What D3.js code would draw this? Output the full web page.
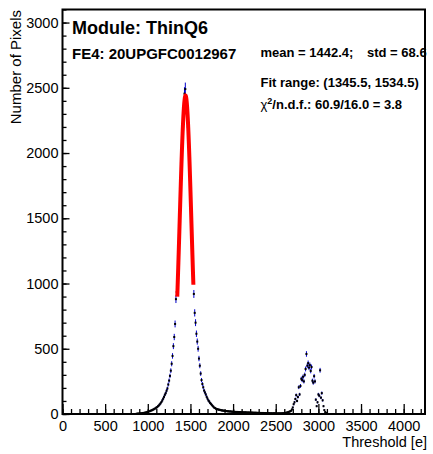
<!DOCTYPE html>
<html>
<head>
<meta charset="utf-8">
<script src="https://cdn.jsdelivr.net/npm/d3@7/dist/d3.min.js"></script>
<style>
  body { margin: 0; background: #fff; }
  text { font-family: "Liberation Sans", Arial, Helvetica, sans-serif; }
</style>
</head>
<body>
<script>
// histogram: bin width 10, counts
var binWidth = 10;
var leftStart = 870;
var leftTail = [2,3,3,4,5,4,6,7,8,9, 11,12,14,17,19,21,24,27,29,33,
  36,40,44,49,53,60,66,74,82,92, 104,117,131,147,160,178,196,226,256,292,
  332,385,445,520,590,690,880,935];
var peakStart = 1350;
var peakCounts = [1000,1170,1420,1590,1800,2060,2170,2330,2455,2490,
  2400,2320,2200,2060,1900,1740,1480,1300,1060];
var rightStart = 1540;
var rightTail = [920,775,700,615,555,500,425,370,310,260,
  230,205,180,165,150,132,118,104,96,85, 78,70,62,55,48,45,40,38,36,33,
  33,30,29,27,27,25,24,23,23,21, 21,20,19,20,18,18,17,18,16,16,
  15,16,15,14,15,14,13,14,13,12, 13,12,12,11,12,11,11,10,11,10,
  10,9,10,9,9,8,9,8,8,8, 7,8,7,7,7,6,7,6,6,6, 5,6,5,5,6,5,5,5,4,5,
  5,4,5,5,6,6,7,8,9,11, 13,15,18,21];
var bumpStart = 2680;
var bumpCounts = [25,35,50,75,90,115,145,100,130,205,
  150,215,270,260,285,250,300,345,460,370,
  390,355,375,330,360,255,240,290,250,110,
  60,90,150,140,335,125,160,105,60,30, 15,8,3];

var xTicks = [0,500,1000,1500,2000,2500,3000,3500,4000];
var yTicks = [0,500,1000,1500,2000,2500,3000];

// gaussian fit result
var fitAmp = 2440, fitMean = 1442.4, fitSigma = 68.6;
var fitRange = [1345.5, 1534.5];

var W = 433, H = 454;
var fLeft = 62.5, fRight = 425, fTop = 9.5, fBottom = 414;

var xScale = d3.scaleLinear().domain([0, 4250]).range([fLeft, fRight]);
var yScale = d3.scaleLinear().domain([0, 3100]).range([fBottom, fTop]);

var bins = [];
function addBins(start, arr) {
  arr.forEach(function(v, i) { bins.push({x: start + i * binWidth, y: v}); });
}
addBins(leftStart, leftTail);
addBins(peakStart, peakCounts);
addBins(rightStart, rightTail);
addBins(bumpStart, bumpCounts);

var svg = d3.select("body").append("svg")
  .attr("width", W).attr("height", H);
svg.append("rect").attr("width", W).attr("height", H).attr("fill", "#fff");

// error bars
svg.append("g").selectAll("line")
  .data(bins).enter().append("line")
  .attr("x1", function(d){ return xScale(d.x); })
  .attr("x2", function(d){ return xScale(d.x); })
  .attr("y1", function(d){ return yScale(d.y + Math.sqrt(d.y)); })
  .attr("y2", function(d){ return yScale(Math.max(0, d.y - Math.sqrt(d.y))); })
  .attr("stroke", "#0000cc")
  .attr("stroke-width", 1);

// markers
svg.append("g").selectAll("rect")
  .data(bins).enter().append("rect")
  .attr("x", function(d){ return xScale(d.x) - 1; })
  .attr("y", function(d){ return yScale(d.y) - 1; })
  .attr("width", 2).attr("height", 2)
  .attr("fill", "#000");

// fit curve
var fitX = d3.range(0, 101).map(function(i){
  return fitRange[0] + i * (fitRange[1] - fitRange[0]) / 100;
});
var gaus = function(x){
  return fitAmp * Math.exp(-(x - fitMean) * (x - fitMean) / (2 * fitSigma * fitSigma));
};
svg.append("path")
  .datum(fitX)
  .attr("d", d3.line()
    .x(function(d){ return xScale(d); })
    .y(function(d){ return yScale(gaus(d)); }))
  .attr("fill", "none")
  .attr("stroke", "#ff0000")
  .attr("stroke-width", 4);

// axes
svg.append("g")
  .attr("transform", "translate(0," + fBottom + ")")
  .call(d3.axisBottom(xScale).tickValues(d3.range(0, 4201, 100)).tickSize(-5).tickFormat(""));
var xAxis = svg.append("g")
  .attr("transform", "translate(0," + fBottom + ")")
  .call(d3.axisBottom(xScale).tickValues(xTicks).tickSize(-10).tickPadding(7).tickFormat(d3.format("d")));
svg.append("g")
  .attr("transform", "translate(" + fLeft + ",0)")
  .call(d3.axisLeft(yScale).tickValues(d3.range(0, 3101, 100)).tickSize(-4).tickFormat(""));
var yAxis = svg.append("g")
  .attr("transform", "translate(" + fLeft + ",0)")
  .call(d3.axisLeft(yScale).tickValues(yTicks).tickSize(-7).tickPadding(4).tickFormat(d3.format("d")));

svg.selectAll(".domain").remove();
svg.selectAll(".tick line").attr("stroke", "#000").attr("stroke-width", 1.3);
svg.selectAll(".tick text").attr("font-size", "14.5px").attr("fill", "#000")
  .attr("font-family", "Liberation Sans, Arial, sans-serif");
yAxis.selectAll(".tick text").attr("x", -4);

// frame
svg.append("rect")
  .attr("x", fLeft).attr("y", fTop)
  .attr("width", fRight - fLeft).attr("height", fBottom - fTop)
  .attr("fill", "none").attr("stroke", "#000").attr("stroke-width", 2);

// titles
svg.append("text")
  .attr("x", fRight + 2).attr("y", 447)
  .attr("text-anchor", "end").attr("font-size", "14.5px")
  .text("Threshold [e]");
svg.append("text")
  .attr("transform", "translate(21,10) rotate(-90)")
  .attr("text-anchor", "end").attr("font-size", "15px")
  .text("Number of Pixels");

// labels
svg.append("text").attr("x", 72).attr("y", 34)
  .attr("font-size", "18px").attr("font-weight", "bold")
  .text("Module: ThinQ6");
svg.append("text").attr("x", 72).attr("y", 59)
  .attr("font-size", "15px").attr("font-weight", "bold")
  .text("FE4: 20UPGFC0012967");
svg.append("text").attr("x", 260.5).attr("y", 57)
  .attr("font-size", "13px").attr("font-weight", "bold")
  .text("mean = 1442.4;");
svg.append("text").attr("x", 367).attr("y", 57)
  .attr("font-size", "13px").attr("font-weight", "bold")
  .text("std = 68.6");
svg.append("text").attr("x", 260.5).attr("y", 87)
  .attr("font-size", "13px").attr("font-weight", "bold")
  .text("Fit range: (1345.5, 1534.5)");
var chi = svg.append("text").attr("x", 260.5).attr("y", 109)
  .attr("font-size", "13px").attr("font-weight", "bold");
chi.append("tspan").attr("font-weight", "normal").text("\u03c7");
chi.append("tspan").attr("font-size", "9px").attr("dy", -5).text("2");
chi.append("tspan").attr("dy", 5).text("/n.d.f.: 60.9/16.0 = 3.8");
</script>
</body>
</html>
